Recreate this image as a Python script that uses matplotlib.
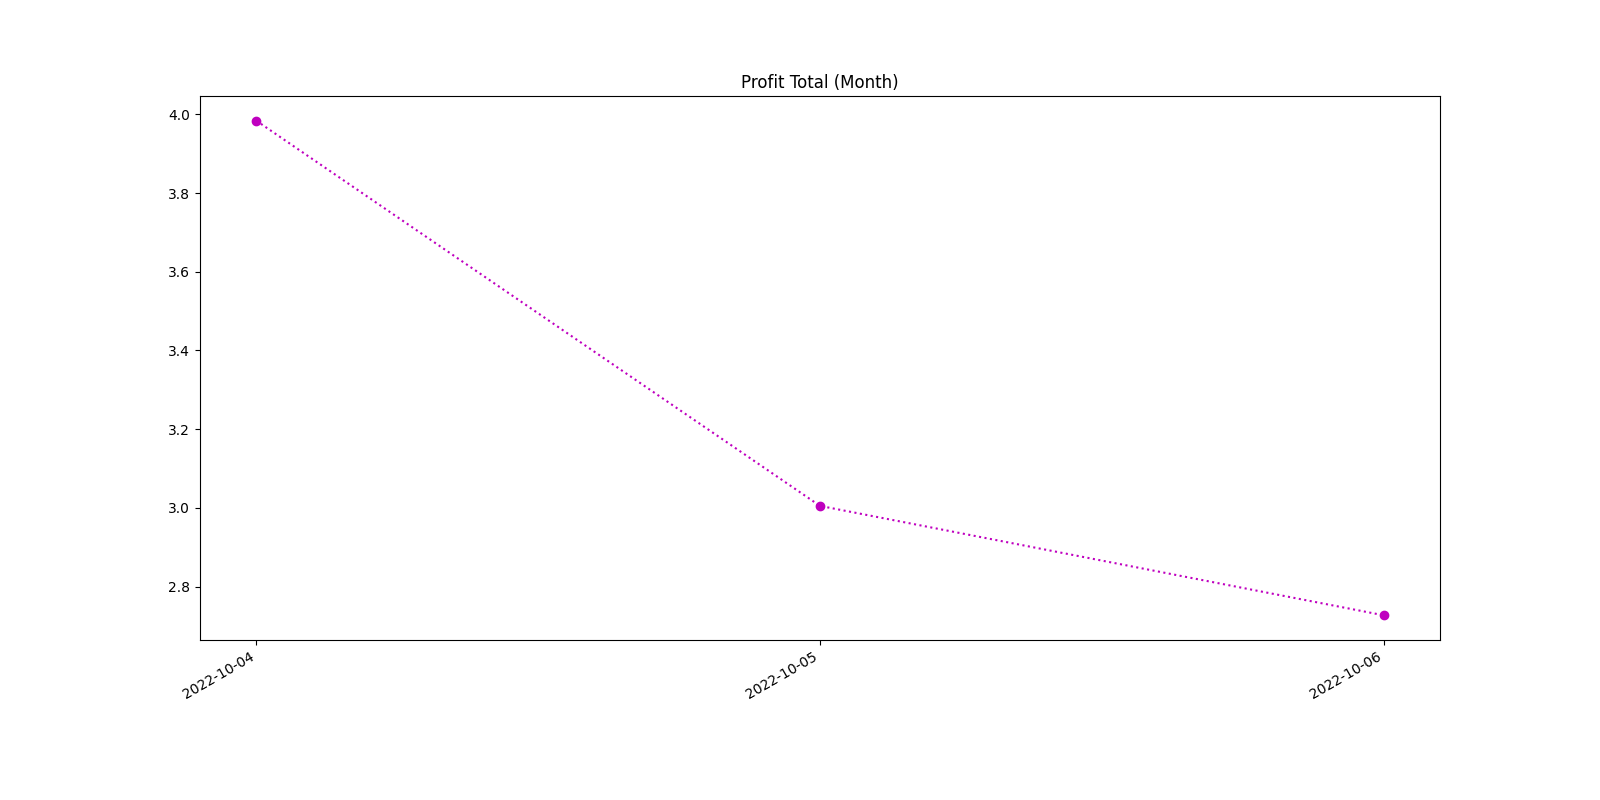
import matplotlib
matplotlib.use("Agg")
import matplotlib.pyplot as plt
import pandas as pd

dates = pd.to_datetime(["2022-10-04", "2022-10-05", "2022-10-06"])
profit = [3.984, 3.005, 2.727]

fig, ax = plt.subplots(figsize=(16, 8), dpi=100)
ax.plot(dates, profit, linestyle=':', marker='o', color='m')
ax.set_xticks(dates)
ax.set_xticklabels([d.strftime("%Y-%m-%d") for d in dates])
ax.set_title("Profit Total (Month)")
fig.autofmt_xdate()
fig.savefig("out.png")
